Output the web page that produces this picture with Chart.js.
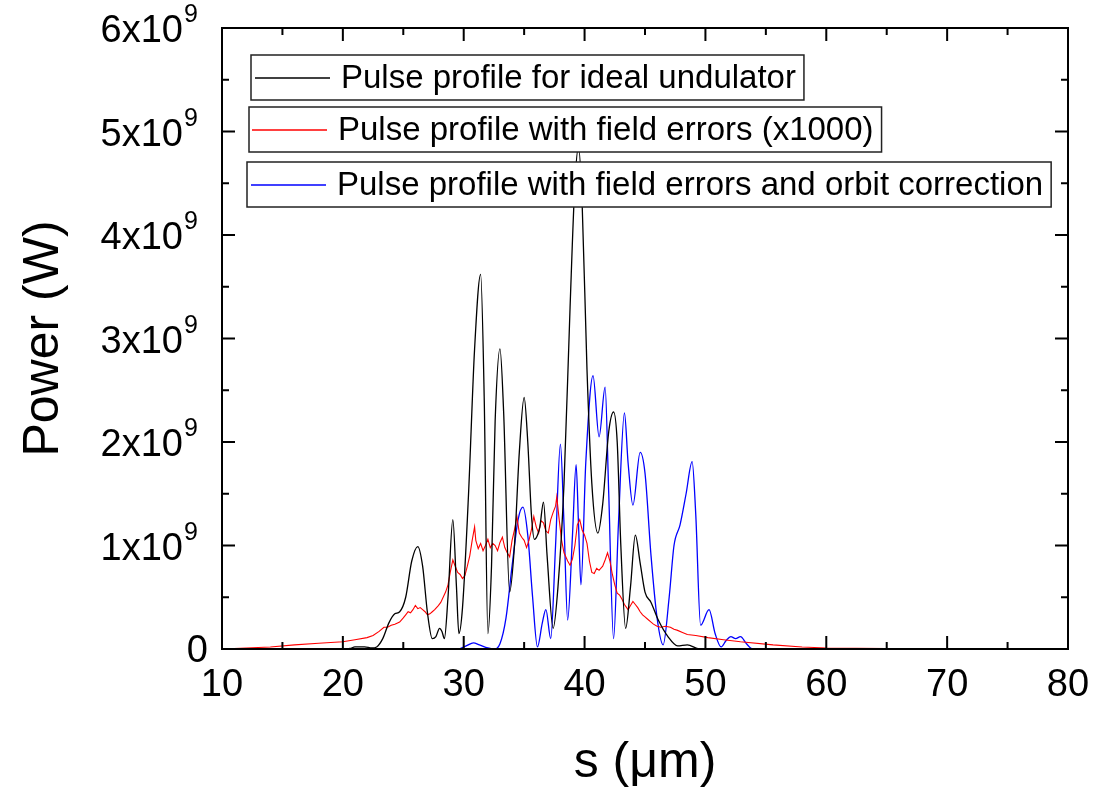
<!DOCTYPE html>
<html>
<head>
<meta charset="utf-8">
<script src="https://cdn.jsdelivr.net/npm/chart.js@4"></script>
<style>
  html, body { margin: 0; padding: 0; background: #fff; }
  #wrap { width: 1119px; height: 793px; }
</style>
</head>
<body>
<div id="wrap"><canvas id="pulseChart" width="1119" height="793"></canvas></div>
<script>
// power values are in units of 1e9 W
const GW = 1e9;

const seriesLabels = [
    'Pulse profile for ideal undulator',
    'Pulse profile with field errors (x1000)',
    'Pulse profile with field errors and orbit correction'
];

// ideal undulator
const sIdeal = [10, 20, 20.6, 21.0, 21.8, 22.4, 22.8, 23.3, 23.8, 24.3, 24.7, 25.2, 25.7, 26.2, 26.6, 27.0,
    27.4, 27.7, 28.0, 28.2, 28.4, 28.7, 29.1, 29.4, 29.6, 29.9, 30.4, 30.9, 31.4, 31.7, 32.0, 32.3, 32.6,
    33.0, 33.3, 33.8, 34.2, 34.6, 35.0, 35.3, 35.6, 35.85, 36.1, 36.3, 36.6, 36.9, 37.4, 37.8, 38.3, 38.8,
    39.2, 39.5, 39.8, 40.2, 40.6, 41.1, 41.5, 42.0, 42.4, 42.7, 43.0, 43.4, 43.8, 44.2, 44.6, 45.0, 45.5,
    46.1, 46.9, 47.7, 48.5, 49.5, 80];
const pIdeal = [0, 0, 0.005, 0.02, 0.02, 0.01, 0.02, 0.1, 0.25, 0.34, 0.36, 0.5, 0.85, 0.99, 0.8, 0.35,
    0.1, 0.12, 0.2, 0.17, 0.1, 0.5, 1.25, 0.6, 0.15, 0.4, 1.5, 2.9, 3.62, 2.4, 0.15, 0.8, 2.2,
    2.9, 2.3, 0.55, 1.0, 1.9, 2.43, 2.0, 1.3, 1.06, 1.1, 1.18, 1.42, 0.9, 0.2, 0.6, 1.6, 3.3,
    4.5, 4.85, 4.3, 2.7, 1.6, 1.12, 1.4, 2.1, 2.29, 2.0, 1.0, 0.2, 0.6, 1.1, 0.83, 0.55, 0.45,
    0.28, 0.12, 0.03, 0.04, 0, 0];

// with field errors (x1000)
const sErr = [10, 12, 14, 16, 18, 20, 21, 22, 22.5, 23, 23.4, 23.7, 24.0, 24.3, 24.7, 25.0, 25.2, 25.4,
    25.6, 25.8, 26.0, 26.2, 26.4, 26.6, 26.8, 27.0, 27.2, 27.4, 27.6, 27.9, 28.1, 28.3, 28.5, 28.7, 28.9,
    29.1, 29.3, 29.5, 29.7, 29.9, 30.1, 30.3, 30.5, 30.7, 30.9, 31.0, 31.2, 31.4, 31.6, 31.8, 32.0, 32.2,
    32.4, 32.6, 32.8, 33.0, 33.2, 33.4, 33.6, 33.8, 34.0, 34.2, 34.4, 34.6, 34.8, 35.0, 35.2, 35.4, 35.6,
    35.8, 36.0, 36.2, 36.4, 36.6, 36.8, 37.0, 37.2, 37.4, 37.6, 37.7, 37.9, 38.1, 38.3, 38.6, 38.8, 39.0,
    39.2, 39.4, 39.6, 39.8, 40.0, 40.2, 40.4, 40.6, 40.8, 41.0, 41.2, 41.5, 41.7, 41.9, 42.1, 42.3, 42.5,
    42.7, 42.9, 43.1, 43.3, 43.6, 43.8, 44.0, 44.2, 44.4, 44.6, 44.8, 45.0, 45.2, 45.5, 45.7, 46.0, 46.3,
    46.7, 47.1, 47.4, 47.7, 48.1, 48.5, 49.2, 50.2, 51.5, 52.9, 55.6, 58, 60, 65, 70, 80];
const pErr = [0, 0.01, 0.02, 0.04, 0.055, 0.07, 0.09, 0.11, 0.13, 0.17, 0.21, 0.21, 0.23, 0.24, 0.26, 0.3, 0.33, 0.36,
    0.35, 0.38, 0.42, 0.39, 0.4, 0.38, 0.36, 0.33, 0.34, 0.36, 0.38, 0.42, 0.45, 0.5, 0.55, 0.62, 0.75,
    0.86, 0.8, 0.74, 0.72, 0.68, 0.71, 0.8, 0.9, 1.05, 1.18, 1.05, 0.97, 1.02, 0.95, 1.0, 1.06, 0.98,
    1.02, 1.0, 0.95, 1.03, 1.08, 0.98, 0.93, 0.89, 1.05, 1.15, 1.28, 1.12, 1.08, 1.05, 0.98, 1.05, 1.15,
    1.28, 1.18, 1.12, 1.24, 1.22, 1.14, 1.12, 1.25, 1.32, 1.38, 1.47, 1.25, 1.05, 0.93, 0.85, 0.81, 0.87,
    1.0, 1.2, 1.25, 1.15, 1.1, 1.02, 0.85, 0.74, 0.73, 0.78, 0.76, 0.8, 0.86, 0.93, 0.85, 0.72, 0.62,
    0.54, 0.52, 0.48, 0.43, 0.38, 0.42, 0.46, 0.43, 0.4, 0.36, 0.33, 0.31, 0.29, 0.26, 0.24, 0.22, 0.21,
    0.22, 0.21, 0.19, 0.18, 0.16, 0.14, 0.13, 0.11, 0.09, 0.07, 0.04, 0.02, 0.01, 0.005, 0, 0];

// with field errors and orbit correction
const sCorr = [10, 29.5, 30.2, 30.8, 31.3, 32.0, 32.5, 33.0, 33.5, 34.0, 34.5, 34.9, 35.3, 35.7, 36.1, 36.5,
    36.8, 37.2, 37.6, 38.0, 38.3, 38.6, 39.0, 39.3, 39.5, 39.7, 40.1, 40.7, 41.2, 41.7, 42.0, 42.4, 42.8,
    43.3, 43.6, 44.0, 44.6, 45.0, 45.5, 46.0, 46.5, 47.0, 47.4, 47.9, 48.4, 48.9, 49.2, 49.6, 50.3, 50.8,
    51.3, 51.7, 52.1, 52.5, 52.9, 53.4, 53.9, 80];
const pCorr = [0, 0, 0.03, 0.06, 0.04, 0.01, 0, 0.05, 0.3, 0.8, 1.25, 1.37, 1.1, 0.5, 0.02, 0.25,
    0.38, 0.1, 1.0, 1.98, 1.2, 0.28, 1.1, 1.78, 1.2, 0.62, 1.8, 2.64, 2.05, 2.53, 1.5, 0.1, 1.2,
    2.28, 1.8, 1.39, 1.9, 1.7, 0.9, 0.3, 0.04, 0.5, 1.0, 1.2, 1.5, 1.81, 1.3, 0.23, 0.38, 0.15,
    0.02, 0.08, 0.12, 0.1, 0.12, 0.05, 0, 0];

const lineColors = ['#000000', '#ff0000', '#0000ff'];

const toPoints = (xs, ys) => xs.map((x, i) => ({ x: x, y: ys[i] * GW }));

const FONT = '"Liberation Sans", Arial, sans-serif';
Chart.defaults.font.family = FONT;
Chart.defaults.color = '#000';

// closed frame with inward ticks on all four sides, y labels as a x10^9 with raised exponent
const frameTicks = {
    id: 'frameTicks',
    afterDatasetsDraw(chart) {
        const { ctx, chartArea: a, scales } = chart;
        ctx.save();
        ctx.strokeStyle = '#000';
        ctx.lineWidth = 2;
        ctx.strokeRect(a.left, a.top, a.right - a.left, a.bottom - a.top);
        ctx.beginPath();
        scales.x.ticks.forEach(t => {
            const px = scales.x.getPixelForValue(t.value);
            const len = Math.round(t.value) % 10 === 0 ? 13 : 7;
            ctx.moveTo(px, a.bottom); ctx.lineTo(px, a.bottom - len);
            ctx.moveTo(px, a.top); ctx.lineTo(px, a.top + len);
        });
        scales.y.ticks.forEach(t => {
            const py = scales.y.getPixelForValue(t.value);
            const len = Math.round(t.value / GW * 2) % 2 === 0 ? 13 : 7;
            ctx.moveTo(a.left, py); ctx.lineTo(a.left + len, py);
            ctx.moveTo(a.right, py); ctx.lineTo(a.right - len, py);
        });
        ctx.stroke();

        ctx.fillStyle = '#000';
        ctx.textBaseline = 'alphabetic';
        scales.y.ticks.forEach(t => {
            const n = Math.round(t.value / GW * 2);
            if (n % 2 !== 0) return;
            const py = scales.y.getPixelForValue(t.value);
            ctx.font = '38px ' + FONT;
            ctx.textAlign = 'right';
            if (n === 0) {
                ctx.fillText('0', a.left - 14, py + 13);
                return;
            }
            ctx.fillText((n / 2) + 'x10', a.left - 39, py + 14);
            ctx.font = '25px ' + FONT;
            ctx.textAlign = 'left';
            ctx.fillText('9', a.left - 38, py - 6);
        });
        ctx.restore();
    }
};

// one boxed entry per series, like the original
const boxedLegend = {
    id: 'boxedLegend',
    afterDraw(chart) {
        const ctx = chart.ctx;
        const boxes = [
            { x: 251, y: 55, lx: 255 },
            { x: 249, y: 107, lx: 252 },
            { x: 247, y: 162, lx: 251 }
        ];
        ctx.save();
        ctx.font = '33px ' + FONT;
        ctx.textBaseline = 'middle';
        chart.data.datasets.forEach((ds, i) => {
            const b = boxes[i];
            const h = 45;
            const tx = b.lx + 86;
            const w = tx + ctx.measureText(ds.label).width + 8 - b.x;
            ctx.fillStyle = '#fff';
            ctx.fillRect(b.x, b.y, w, h);
            ctx.strokeStyle = '#222';
            ctx.lineWidth = 1.5;
            ctx.strokeRect(b.x, b.y, w, h);
            ctx.strokeStyle = lineColors[i];
            ctx.lineWidth = 1.3;
            ctx.beginPath();
            ctx.moveTo(b.lx, b.y + h / 2 + 0.5);
            ctx.lineTo(b.lx + 75, b.y + h / 2 + 0.5);
            ctx.stroke();
            ctx.fillStyle = '#000';
            ctx.fillText(ds.label, tx, b.y + h / 2 + 1);
        });
        ctx.restore();
    }
};

new Chart(document.getElementById('pulseChart'), {
    type: 'line',
    data: {
        datasets: [
            { label: seriesLabels[0], data: toPoints(sIdeal, pIdeal), borderColor: lineColors[0], borderWidth: 1.3, cubicInterpolationMode: 'monotone' },
            { label: seriesLabels[1], data: toPoints(sErr, pErr), borderColor: lineColors[1], borderWidth: 1.1, tension: 0 },
            { label: seriesLabels[2], data: toPoints(sCorr, pCorr), borderColor: lineColors[2], borderWidth: 1.3, cubicInterpolationMode: 'monotone' }
        ]
    },
    options: {
        responsive: false,
        animation: false,
        elements: { point: { radius: 0 } },
        layout: { padding: { left: 0, top: 28, right: 51, bottom: 0 } },
        plugins: {
            legend: { display: false },
            tooltip: { enabled: false }
        },
        scales: {
            x: {
                type: 'linear',
                min: 10,
                max: 80,
                grid: { display: false, drawTicks: false },
                border: { display: false },
                ticks: {
                    stepSize: 5,
                    autoSkip: false,
                    maxRotation: 0,
                    padding: 14,
                    font: { size: 38 },
                    callback: v => (Math.round(v) % 10 === 0 ? String(v) : '')
                },
                title: { display: true, text: 's (\u03bcm)', font: { size: 50 }, padding: 0 },
                afterFit: s => { s.height = 144; }
            },
            y: {
                min: 0,
                max: 6 * GW,
                grid: { display: false, drawTicks: false },
                border: { display: false },
                ticks: {
                    display: false,
                    stepSize: 0.5 * GW,
                    autoSkip: false
                },
                title: { display: true, text: 'Power (W)', font: { size: 50 }, padding: { top: 14 } },
                afterFit: s => { s.width = 222; }
            }
        }
    },
    plugins: [frameTicks, boxedLegend]
});
</script>
</body>
</html>
